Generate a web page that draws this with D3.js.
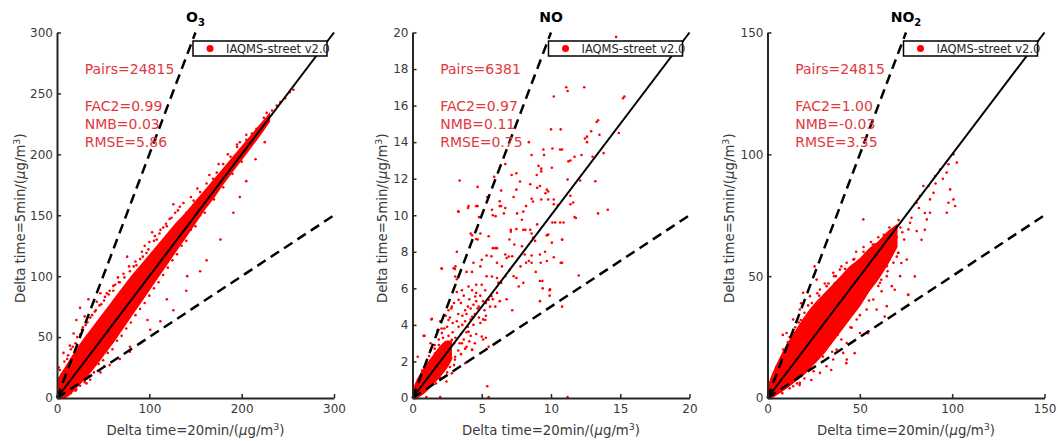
<!DOCTYPE html>
<html>
<head>
<meta charset="utf-8">
<script src="https://cdn.jsdelivr.net/npm/d3@7"></script>
<style>
body { margin: 0; background: #fff; }
text { font-family: "DejaVu Sans", sans-serif; }
</style>
</head>
<body>
<div id="chart"></div>
<script>
// panel settings
var titles = ["O", "NO", "NO"];
var titleSubs = ["3", "", "2"];
var axisMax = [300, 20, 150];
var xTicks = [[0, 100, 200, 300], [0, 5, 10, 15, 20], [0, 50, 100, 150]];
var yTicks = [[0, 50, 100, 150, 200, 250, 300], [0, 2, 4, 6, 8, 10, 12, 14, 16, 18, 20], [0, 50, 100, 150]];
var pairs = ["24815", "6381", "24815"];
var fac2 = ["0.99", "0.97", "1.00"];
var nmb = ["0.03", "0.11", "-0.03"];
var rmse = ["5.86", "0.75", "3.35"];
var legendLabel = "IAQMS-street v2.0";

// dense part of each cloud: [x, lowest y, highest y]
var o3Core = [[0,0,14],[5,0,20],[10,1,26],[20,8,38],[30,16,49],[40,25,59],[50,35,69],[60,45,79],[70,56,89],[80,67,99],[90,78,108],[100,89,117],[110,100,126],[120,111,135],[130,122,144],[140,133,152],[150,144,161],[160,155,170],[170,165,179],[180,176,188],[190,186,197],[200,196,206],[210,206,215],[220,216,224],[230,227,233]];
var noCore = [[0,0,0.4],[0.5,0.1,1.2],[1,0.4,1.8],[1.5,0.8,2.3],[2,1.2,2.8],[2.5,1.7,3.1],[2.8,2.1,3.1]];
var no2Core = [[0,0,4],[3,0.5,10],[6,2,15],[10,4,21],[15,7,27],[20,10,33],[25,14,38],[30,18,42],[35,23,46],[40,28,50],[45,33,54],[50,38,57],[55,44,61],[60,49,64],[65,55,68],[70,62,71]];

// scattered points outside the dense part: [x, y]
var o3Points = [[256,253],[252,251],[247,246],[242,243],[238,240],[233,236],[227,234],[224,230],[216,221],[211,217],[205,212],[198,210],[195,206],[188,198],[180,192],[173,185],[169,180],[162,176],[155,169],[148,162],[140,152],[137,148],[126,159],[119,141],[112,138],[108,130],[103,136],[97,119],[90,114],[83,108],[76,116],[68,95],[61,92],[54,86],[47,86],[43,79],[34,81],[30,67],[25,74],[21,64],[18,53],[14,43],[11,32],[7,37],[3,23],[1,15],[2,25],[5,19],[43,48],
  [15,40],[20,45],[25,52],[28,58],[33,62],[38,68],[42,72],[48,77],[52,83],[57,88],[63,93],[66,99],[72,102],[78,108],[85,112],[92,120],[95,125],[100,128],[106,133],[115,140],[122,147],[128,152],[133,157],[145,165],[152,172],[165,183],[175,192],[185,200],[195,208],[205,216],
  [8,30],[12,35],[17,42],[22,50],[27,56],[31,60],[36,66],[41,71],[46,76],[51,80],[56,85],[61,88],[67,95],[73,99],[79,104],[86,109],[93,116],[99,122],[105,129],[111,135],[118,143],[124,148],[131,154],[137,160],
  [10,4],[21,7],[32,12],[36,15],[47,21],[51,26],[57,27],[68,32],[79,38],[79,42],[90,45],[98,64],[101,56],[112,63],[119,81],[126,72],[141,100],[140,88],[155,104],[162,113],[177,130],[191,152],[198,165],[205,178],[215,196],[225,210],
  [15,4],[25,10],[35,18],[45,28],[55,37],[65,47],[75,57],[85,68],[95,78],[105,90],[115,101],[125,113],[135,125],[145,138],[155,150],[165,161],[175,172],[185,183],[195,193],[205,203],[215,213],
  [20,6],[30,13],[40,21],[50,31],[60,40],[70,51],[80,62],[90,73],[100,84],[110,95],[120,107],[130,118],[140,129],[150,141],[160,152],[170,163],[180,173],[190,184],[200,194]];
var noPoints = [[14.7,19.76],[11.1,17.0],[11.2,16.8],[12.4,17.0],[10.2,16.5],[15.2,16.4],[15.3,16.5],
  [13.4,15.2],[13.3,15.1],[10.0,14.7],[10.7,14.7],[12.9,14.6],[12.6,14.3],[12.45,14.2],[14.9,14.5],[13.5,14.4],[12.6,14.0],[10.8,13.6],
  [8.4,14.0],[10.1,13.65],[9.5,13.3],[8.6,13.3],[11.4,13.0],[11.7,13.2],[12.2,13.3],[13.0,13.2],[13.8,13.4],[9.45,13.6],[10.66,13.6],
  [9.1,12.7],[9.3,12.55],[9.3,12.4],[7.5,12.3],[6.7,12.8],[3.4,11.9],[5.9,12.1],[10.06,12.6],[11.26,12.95],[7.16,12.2],[8.97,12.2],
  [11.2,11.95],[12.1,11.9],[13.2,11.86],[4.7,11.55],[6.4,11.35],[7.5,11.4],[9.0,11.5],[9.7,11.4],[9.6,11.2],[7.76,11.85],[8.5,11.7],[9.2,11.6],[9.8,11.3],[11.4,11.07],
  [8.6,10.9],[8.7,10.75],[9.3,10.86],[9.8,10.86],[10.2,10.86],[10.5,10.55],[11.6,10.7],[10.2,10.6],
  [5.4,11.0],[6.3,10.77],[7.3,11.0],[3.3,10.2],[4.0,10.4],[4.7,10.5],[4.6,10.5],[6.4,10.5],[5.8,10.0],[6.0,9.95],[6.7,10.4],
  [8.2,10.5],[8.0,10.2],[13.4,10.1],[14.1,10.3],[11.8,9.85],[9.0,9.5],[10.1,9.6],
  [7.1,9.2],[7.5,9.25],[8.0,9.2],[8.5,9.2],[4.2,9.0],[4.9,9.0],[5.5,8.85],[4.6,8.7],[4.7,8.67],
  [7.0,8.67],[7.35,8.4],[7.9,8.3],[8.7,8.76],[9.8,8.94],[10.8,8.67],
  [6.1,8.2],[5.8,8.2],[6.7,7.85],[6.8,7.66],[7.2,7.76],[8.1,7.85],[8.2,7.4],[8.6,7.4],[9.2,7.85],[9.7,7.5],[10.7,7.4],
  [2.1,7.1],[3.06,7.06],[3.1,7.2],[3.2,6.5],[3.9,6.9],[4.4,7.4],[4.9,7.2],[5.35,7.8],[5.7,7.76],[6.1,7.4],
  [7.0,7.0],[7.3,6.66],[5.35,6.66],[6.1,6.57],[6.4,6.3],[6.7,6.66],[7.8,7.2],[9.2,6.4],[9.4,6.0],[9.9,5.6],[9.9,5.9],
  [7.5,6.57],[9.2,5.3],[10.8,5.0],[12.0,6.7],[5.0,6.2],[4.6,5.75],[4.3,5.9],[5.7,5.57],[6.1,5.75],[6.3,5.3],[6.8,5.4],
  [5.1,4.3],[5.3,3.3],[5.1,3.2],[4.3,2.65],[3.9,2.8],[5.4,0.64],[1.37,4.3],[0.8,3.4],[2.1,3.8],[2.8,4.9],
  [2.7,1.7],[3.06,2.1],[3.5,2.4],[1.7,0.8],[2.45,0.9],
  [8.9,6.9],[10.8,7.4],[10.2,7.7],[9.26,7.4],[9.57,8.0],[8.6,7.8],[10.8,8.66],[10.06,8.5],[8.85,8.6],[9.7,8.9],[11.7,9.9],[10.9,9.6],[10.66,9.6],[10.3,9.6],[11.4,10.6],[9.93,5.95],[9.38,6.4],
  [2.12,7.07],[3.2,8.0],[3.33,10.2],[4.05,10.5],[1.4,4.33],[0.87,3.4],[0.38,2.26],[2.97,7.1],[3.08,6.65],
  [5.98,8.2],[7.1,9.1],[8.15,9.2],[8.6,9.0],[4.8,9.9],[6.6,10.1],[7.55,10.1],[4.3,8.9],[5.74,10.3],[6.3,10.5],[7.9,9.75],
  [7.67,6.1],[8.0,6.3],[8.4,7.5],[7.2,4.8],[5.98,5.0],[5.25,4.27],[5.0,3.36],[5.5,2.8],[4.3,2.63],[3.8,1.9],[2.84,1.35],
  [3.57,5.9],[4.05,6.1],[4.53,5.55],[4.78,5.0],[3.33,5.37],[2.84,5.0],[3.8,4.8],[4.3,4.45],[2.6,4.27],[3.33,3.9],[2.12,3.55],[4.05,3.63],[2.84,3.18],[2.36,2.63],[1.64,2.45],[3.57,3.0],[1.4,1.9],[2.12,1.72],[3.08,2.26],[0.9,1.35],
  [5.25,5.9],[5.74,6.65],[6.46,7.2],[5.0,7.56],[4.3,6.9],[5.5,5.37],[6.95,7.74],[6.2,6.3],
  [3.8,4.2],[4.2,4.9],[4.5,4.6],[3.6,4.5],[3.9,3.6],[4.4,4.0],[4.8,4.4],[3.3,4.6],[2.9,4.1],[2.5,3.9],[2.2,3.3],[1.9,2.9],[1.6,2.7],[1.2,2.3],[1.0,1.8],[0.7,1.5],[3.7,3.2],[4.1,3.1],[3.3,2.6],[2.8,2.2],[2.3,1.8],[1.9,1.4],[1.5,1.1],[1.2,0.7],[4.6,3.5],[5.2,4.8],[5.6,5.0],[4.9,5.6],[4.1,5.4],[3.7,5.6],[3.2,5.8],[2.6,4.8],[2.4,4.5],[2.0,4.2],[1.8,3.7],[1.3,3.0],[4.6,6.2],[5.3,5.2],[4.2,3.4],[3.5,3.5],[3.0,3.0],[2.6,2.6],[1.1,1.0],[0.6,0.9],[0.5,0.3],[0.9,0.4],
  [0.3,0.6],[0.4,1.0],[0.6,0.5],[0.8,1.2],[1.0,0.6],[1.1,1.5],[1.3,1.8],[1.5,2.0],[1.7,1.6],[1.8,2.3],[2.0,2.6],[2.2,2.1],[2.4,3.0],[2.6,3.4],[2.7,2.9],[2.9,3.6],[3.1,3.3],[3.2,4.2],[3.4,3.0],[3.6,4.0],[3.9,4.6],[4.0,3.9],[4.2,4.3],[4.4,5.1],[4.7,4.9],[4.9,4.1],[5.1,5.3],[3.0,5.2],[2.7,4.4],[2.3,3.8],[1.9,3.2],[1.6,2.9],[1.3,2.6],[3.5,5.2],[4.0,5.0],[4.6,5.3],[5.3,4.5],[5.8,5.4],[3.8,2.7],[4.5,3.0],[2.0,1.1],[1.4,0.9],[2.5,1.4],[3.0,1.8],
  [2.0,0.05],[1.0,0.05],[5.5,0.05],[11.2,0.05],[0.3,0.05]];
var no2Points = [[102.5,96.6],[100.7,100],[98,95.9],[93.5,93.8],[90.8,91.1],[97,92.5],[98.9,85.6],[100.7,81.5],[101.6,78.8],[97.1,76],[98,80.1],[89.9,84.2],[87.2,87],[88,81.5],[84.4,87],[82.6,82.9],[80.8,80.1],[88,76],[86.3,73.3],[77.2,71.9],[76.3,69.2],[80.8,68.5],[74,65],[51.9,73.3],[70.9,59.6],[68.2,55.5],[64.6,54.1],[75.4,56.8],[65.5,58.2],[55.5,59.6],[50.1,51.4],[60.9,47.3],[64.6,50],[67.3,45.9],[71.8,50],[76.3,42.5],[61.8,43.8],[57.3,40.4],[59.1,36.3],[64.6,37.7],[53.7,36.3],[48.3,32.2],[45.6,28.8],[50.1,26.7],[42.9,22.6],[41,18.5],[42.9,15.8],[37.4,19.9],[35.6,15.8],[32,13],[28.4,10.3],[23,11.6],[17.5,6.2],[13.9,4.8],[23,41.8],[17.5,36.3],[19.3,43.2],[26.6,48.6],[32,45.9],[13.9,32.2],[10.3,26.7],[8.5,19.9],[6.7,14.4],[13,24],[28.4,44.5],[35.6,51.4],[39.2,52.7],[42.9,55.5],[46.5,56.8],[85.2,69],[85.2,75.9],[83.4,64.9],[76.1,42.3],[79.8,49.9],[70.7,59.5],[72.5,55.4],[61.6,48.5],[68.9,44.4],[63.5,33.4],[54.4,26.6],[47.2,18.4],[42.7,14.3],[34.5,11.5],[23.7,7.4],[17.4,5.3],[8.3,25.9],[18.2,38.9],[25.5,54],[36.4,47.1],
  [48,60],[52,62],[56,64],[60,66],[66,68],[68,64],[70,66],[72,70],[69,62],[62,58],[58,52],[54,48],[47,41],[44,36],[40,31],[38,26],[33,22],[30,17],[26,15],[21,12],[40,54],[36,50],[31,47],[27,43],[22,38],[18,32],[15,29],[12,25],[9,18],[7,12],[4,8],[58,63],[63,67],[66,70],[71,73],[73,68],[78,74],[82,78],[91,88],[95,90],
  [5,13],[8,17],[11,23],[14,27],[17,31],[20,35],[24,39],[28,42],[33,47],[37,50],[42,53],[47,57],[52,60],[57,63],
  [8,2],[12,4],[16,6],[20,8],[25,11],[30,15],[35,19],[40,24],[45,29],[50,34],[55,40],[60,46],[65,52],[70,58]];

var cores = [o3Core, noCore, no2Core];
var points = [o3Points, noPoints, no2Points];

var width = 1058, height = 441;
var lefts = [57, 412.5, 767.5];
var plotTop = 32.5, plotBottom = 398, plotWidth = 277;
var yLabelOffset = [32, 25.5, 33.5];
var ink = "#262626";
var red = "#ff0000";
var statRed = "#e0393e";

var svg = d3.select("#chart")
	.append("svg")
	.attr("width", width)
	.attr("height", height);

var defs = svg.append("defs");

for (var i = 0; i < 3; i++) {
	drawPanel(i);
}

function drawPanel(i) {
	var max = axisMax[i];
	var left = lefts[i];

	var xScale = d3.scaleLinear().domain([0, max]).range([left, left + plotWidth]);
	var yScale = d3.scaleLinear().domain([0, max]).range([plotBottom, plotTop]);

	defs.append("clipPath")
		.attr("id", "clip" + i)
		.append("rect")
		.attr("x", left)
		.attr("y", plotTop)
		.attr("width", plotWidth)
		.attr("height", plotBottom - plotTop);

	var g = svg.append("g");
	var plot = g.append("g").attr("clip-path", "url(#clip" + i + ")");

	// dense cloud
	var area = d3.area()
		.x(function(d) { return xScale(d[0]) })
		.y0(function(d) { return yScale(d[1]) })
		.y1(function(d) { return yScale(d[2]) })
		.curve(d3.curveMonotoneX);

	plot.append("path")
		.datum(cores[i])
		.attr("d", area)
		.attr("fill", red)
		.attr("stroke", red)
		.attr("stroke-width", 1.5);

	plot.selectAll(".dot")
		.data(points[i])
		.enter()
		.append("circle")
		.attr("class", "dot")
		.attr("cx", function(d) { return xScale(d[0]) })
		.attr("cy", function(d) { return yScale(d[1]) })
		.attr("r", 1.3)
		.attr("fill", red);

	// 1:1, 2:1 and 1:2 lines
	var line = d3.line()
		.x(function(d) { return xScale(d[0]) })
		.y(function(d) { return yScale(d[1]) });

	g.append("path")
		.datum([[0, 0], [max / 2, max]])
		.attr("d", line)
		.attr("stroke", "#000")
		.attr("stroke-width", 2.5)
		.attr("stroke-dasharray", "10,6")
		.attr("fill", "none");

	g.append("path")
		.datum([[0, 0], [max, max / 2]])
		.attr("d", line)
		.attr("stroke", "#000")
		.attr("stroke-width", 2.5)
		.attr("stroke-dasharray", "10,6")
		.attr("fill", "none");

	g.append("path")
		.datum([[0, 0], [max, max]])
		.attr("d", line)
		.attr("stroke", "#000")
		.attr("stroke-width", 2)
		.attr("fill", "none");

	// axes
	var xAxis = d3.axisBottom(xScale)
		.tickValues(xTicks[i])
		.tickSizeInner(-4)
		.tickSizeOuter(0)
		.tickPadding(6);
	var xg = g.append("g")
		.attr("transform", "translate(0," + plotBottom + ")")
		.call(xAxis);

	var yAxis = d3.axisLeft(yScale)
		.tickValues(yTicks[i])
		.tickSizeInner(-4)
		.tickSizeOuter(0)
		.tickPadding(4);
	var yg = g.append("g")
		.attr("transform", "translate(" + left + ",0)")
		.call(yAxis);

	[xg, yg].forEach(function(a) {
		a.select(".domain").attr("stroke", ink).attr("stroke-width", 2);
		a.selectAll(".tick line").attr("stroke", ink).attr("stroke-width", 1.5);
		a.selectAll(".tick text")
			.attr("fill", "#3a3a3a")
			.style("font-family", "DejaVu Sans")
			.style("font-size", "12px");
	});

	// title
	var title = g.append("text")
		.attr("x", left + plotWidth / 2)
		.attr("y", 22)
		.attr("text-anchor", "middle")
		.style("font-size", "14px")
		.style("font-weight", "bold")
		.attr("fill", "#000");
	title.append("tspan").text(titles[i]);
	if (titleSubs[i] !== "") {
		title.append("tspan").attr("dy", 4).style("font-size", "10px").text(titleSubs[i]);
	}

	// axis labels
	var xl = g.append("text")
		.attr("x", left + plotWidth / 2)
		.attr("y", 435)
		.attr("text-anchor", "middle")
		.attr("fill", "#3a3a3a")
		.style("font-size", "13.3px");
	xl.append("tspan").text("Delta time=20min/(");
	xl.append("tspan").style("font-style", "italic").text("\u03bc");
	xl.append("tspan").text("g/m");
	xl.append("tspan").attr("dy", -5).style("font-size", "9.5px").text("3");
	xl.append("tspan").attr("dy", 5).text(")");

	var yl = g.append("text")
		.attr("transform", "translate(" + (left - yLabelOffset[i]) + "," + ((plotTop + plotBottom) / 2 + 3) + ") rotate(-90)")
		.attr("text-anchor", "middle")
		.attr("fill", "#3a3a3a")
		.style("font-size", "13.3px");
	yl.append("tspan").text("Delta time=5min/(");
	yl.append("tspan").style("font-style", "italic").text("\u03bc");
	yl.append("tspan").text("g/m");
	yl.append("tspan").attr("dy", -5).style("font-size", "9.5px").text("3");
	yl.append("tspan").attr("dy", 5).text(")");

	// statistics
	var stats = [
		["Pairs=" + pairs[i], 0.9],
		["FAC2=" + fac2[i], 0.8],
		["NMB=" + nmb[i], 0.75],
		["RMSE=" + rmse[i], 0.7]
	];
	g.selectAll(".stat")
		.data(stats)
		.enter()
		.append("text")
		.attr("class", "stat")
		.attr("x", xScale(max * 0.1))
		.attr("y", function(d) { return yScale(max * d[1]) })
		.attr("dy", "0.35em")
		.attr("fill", statRed)
		.style("font-size", "14px")
		.text(function(d) { return d[0] });

	// legend
	var lg = g.append("g")
		.attr("transform", "translate(" + (left + plotWidth - 7 - 134) + ",41)");
	lg.append("rect")
		.attr("width", 134)
		.attr("height", 15)
		.attr("fill", "#fff")
		.attr("stroke", "#000")
		.attr("stroke-width", 1.5);
	lg.append("circle")
		.attr("cx", 17)
		.attr("cy", 7.5)
		.attr("r", 3.5)
		.attr("fill", red);
	lg.append("text")
		.attr("x", 33)
		.attr("y", 11.5)
		.attr("fill", ink)
		.style("font-size", "11.5px")
		.text(legendLabel);
}
</script>
</body>
</html>
